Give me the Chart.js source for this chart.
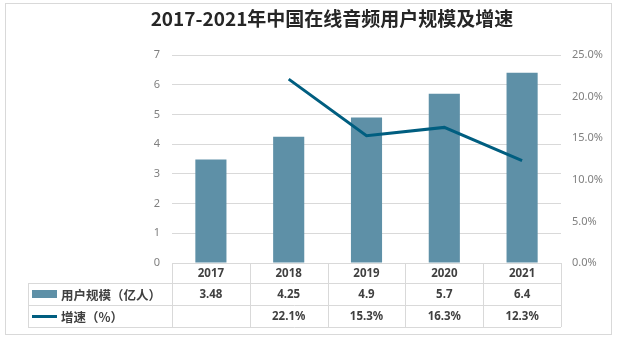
<!DOCTYPE html>
<html lang="zh">
<head>
<meta charset="utf-8">
<title>2017-2021年中国在线音频用户规模及增速</title>
<script src="https://cdn.jsdelivr.net/npm/chart.js@4/dist/chart.umd.min.js"></script>
<style>
  html, body { margin: 0; padding: 0; background: #fff; }
  #audioChart { display: block; }
</style>
</head>
<body>
<canvas id="audioChart" width="617" height="340"></canvas>
<script>
const years = ['2017', '2018', '2019', '2020', '2021'];
const users = [3.48, 4.25, 4.9, 5.7, 6.4];          // 亿人
const growth = [null, 22.1, 15.3, 16.3, 12.3];      // %
const usersLabel = '用户规模（亿人）';
const growthLabel = '增速（%）';
const chartTitle = '2017-2021年中国在线音频用户规模及增速';

const BAR_COLOR = '#5e90a7';
const LINE_COLOR = '#005e80';
const GRID_COLOR = '#d9d9d9';
const TEXT_DARK = '#404040';
const TEXT_GRAY = '#7f7f7f';
const FONT = "'Noto Sans', 'Noto Sans CJK SC', sans-serif";
const CJK_FONT = "'Noto Sans CJK SC', 'Noto Sans', sans-serif";

Chart.defaults.font.family = FONT;
Chart.defaults.animation = false;

// frame, title and the data table under the plot
const tablePlugin = {
    id: 'dataTable',
    afterDraw(chart) {
        const ctx = chart.ctx;
        const xs = chart.scales.x;
        const area = chart.chartArea;
        const left = area.left, right = area.right;
        const colW = (right - left) / years.length;
        const tableLeft = 28;
        const rowTops = [area.bottom, area.bottom + 20, area.bottom + 42, area.bottom + 64];

        ctx.save();

        // outer frame
        ctx.strokeStyle = GRID_COLOR;
        ctx.lineWidth = 1;
        ctx.strokeRect(5.5, 3.5, 606, 331);

        // title
        ctx.fillStyle = '#262626';
        ctx.font = 'bold 19px ' + CJK_FONT;
        ctx.textAlign = 'center';
        ctx.textBaseline = 'middle';
        ctx.fillText(chartTitle, 332, 19);

        // grid of the table
        ctx.beginPath();
        ctx.moveTo(left, rowTops[0] + 0.5);
        ctx.lineTo(right, rowTops[0] + 0.5);
        for (let r = 1; r < rowTops.length; r++) {
            ctx.moveTo(tableLeft, Math.round(rowTops[r]) + 0.5);
            ctx.lineTo(right, Math.round(rowTops[r]) + 0.5);
        }
        ctx.moveTo(tableLeft + 0.5, rowTops[1]);
        ctx.lineTo(tableLeft + 0.5, rowTops[3]);
        for (let i = 0; i <= years.length; i++) {
            const x = Math.round(left + i * colW) + 0.5;
            ctx.moveTo(x, rowTops[0]);
            ctx.lineTo(x, rowTops[3]);
        }
        ctx.stroke();

        // header and values
        ctx.fillStyle = TEXT_DARK;
        ctx.font = 'bold 11.5px ' + FONT;
        years.forEach((y, i) => {
            const cx = xs.getPixelForValue(i);
            ctx.fillText(y, cx, (rowTops[0] + rowTops[1]) / 2 + 1);
            ctx.fillText(String(users[i]), cx, (rowTops[1] + rowTops[2]) / 2 + 1);
            if (growth[i] !== null) {
                ctx.fillText(growth[i].toFixed(1) + '%', cx, (rowTops[2] + rowTops[3]) / 2 + 1);
            }
        });

        // legend keys in the first column
        const mid1 = (rowTops[1] + rowTops[2]) / 2;
        const mid2 = (rowTops[2] + rowTops[3]) / 2;
        ctx.fillStyle = BAR_COLOR;
        ctx.fillRect(32, mid1 - 4, 25, 8);
        ctx.strokeStyle = LINE_COLOR;
        ctx.lineWidth = 3;
        ctx.beginPath();
        ctx.moveTo(32, mid2 + 0.5);
        ctx.lineTo(57, mid2 + 0.5);
        ctx.stroke();

        ctx.fillStyle = TEXT_DARK;
        ctx.font = 'bold 12.5px ' + CJK_FONT;
        ctx.textAlign = 'left';
        ctx.fillText(usersLabel, 61, mid1 + 1);
        ctx.fillText(growthLabel, 61, mid2 + 1);

        ctx.restore();
    }
};

new Chart(document.getElementById('audioChart'), {
    data: {
        labels: years,
        datasets: [
            {
                type: 'line',
                label: growthLabel,
                data: growth,
                yAxisID: 'y1',
                borderColor: LINE_COLOR,
                borderWidth: 3,
                pointRadius: 0,
                tension: 0,
                order: 0
            },
            {
                type: 'bar',
                label: usersLabel,
                data: users,
                yAxisID: 'y',
                backgroundColor: BAR_COLOR,
                barPercentage: 0.4,
                categoryPercentage: 1,
                order: 1
            }
        ]
    },
    options: {
        responsive: false,
        layout: { padding: { top: 55, bottom: 77, left: 132, right: 11 } },
        plugins: {
            legend: { display: false },
            tooltip: { enabled: false },
            title: { display: false }
        },
        scales: {
            x: { display: false },
            y: {
                position: 'left',
                min: 0, max: 7,
                afterFit: s => { s.width = 40; },
                border: { display: false },
                grid: { color: GRID_COLOR, drawTicks: false },
                ticks: { stepSize: 1, padding: 12, color: TEXT_GRAY, font: { size: 11 } }
            },
            y1: {
                position: 'right',
                min: 0, max: 25,
                afterFit: s => { s.width = 45; },
                border: { display: false },
                grid: { display: false, drawTicks: false },
                ticks: {
                    stepSize: 5, padding: 11, color: TEXT_GRAY, font: { size: 11 },
                    callback: v => v.toFixed(1) + '%'
                }
            }
        }
    },
    plugins: [tablePlugin]
});
</script>
</body>
</html>
